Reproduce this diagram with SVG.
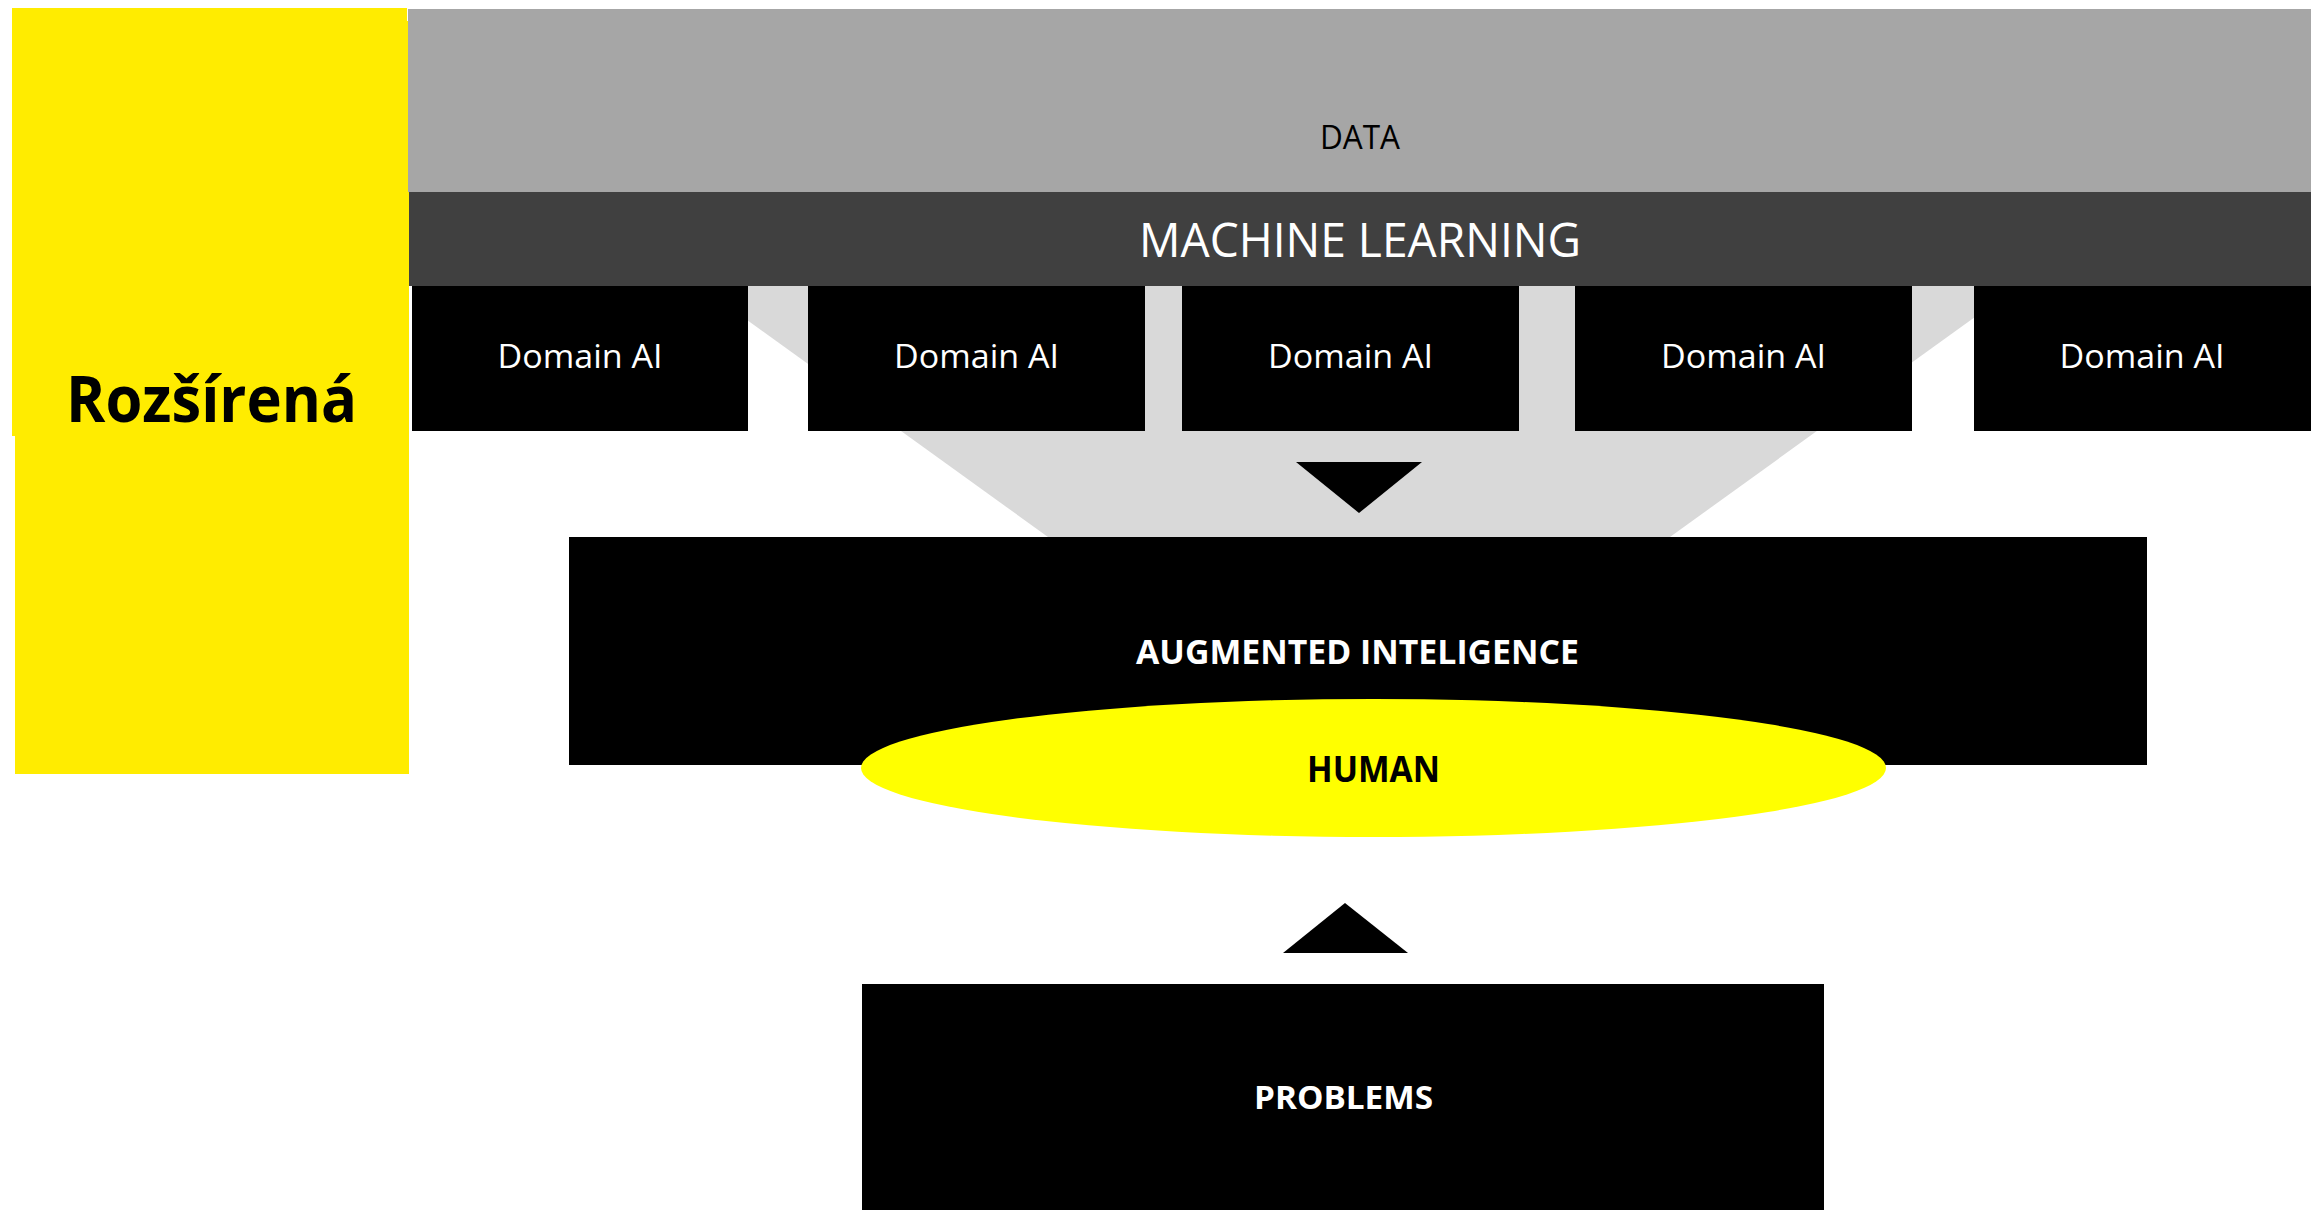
<svg xmlns="http://www.w3.org/2000/svg" width="2311" height="1212" viewBox="0 0 2311 1212">
  <style>
    .lbl { font-family: "Open Sans", "Liberation Sans", sans-serif; text-anchor: middle; }
    .dom { fill: #000000; }
    .domtxt { fill: #ffffff; font-size: 33.6px; }
    .bold { font-weight: bold; }
    .arrow { fill: #000000; }
  </style>
  <rect x="0" y="0" width="2311" height="1212" fill="#ffffff"/>

  <!-- side label band -->
  <g id="rozsirena">
    <polygon points="12,8 407,8 407,21 409,21 409,774 15,774 15,436 12,436" fill="#FFEC00"/>
    <text class="lbl bold" x="211.5" y="422" font-size="64" fill="#000000" textLength="291" lengthAdjust="spacingAndGlyphs">Rozšírená</text>
  </g>

  <!-- data layer -->
  <g id="data">
    <rect x="408" y="9" width="1903" height="183" fill="#A6A6A6"/>
    <text class="lbl" x="1360" y="149" font-size="33.6" fill="#000000" textLength="80" lengthAdjust="spacingAndGlyphs">DATA</text>
  </g>

  <!-- machine learning layer -->
  <g id="machine-learning">
    <rect x="409" y="192" width="1902" height="94" fill="#404040"/>
    <text class="lbl" x="1360" y="257" font-size="47.6" fill="#ffffff" textLength="442" lengthAdjust="spacingAndGlyphs">MACHINE LEARNING</text>
  </g>

  <!-- funnel from domain models into augmented intelligence -->
  <g id="funnel">
    <polygon points="700,286 2018,286 1670,537 1048,537" fill="#D9D9D9"/>
  </g>

  <!-- domain models -->
  <g id="domain-ai-1">
    <rect class="dom" x="412" y="286" width="336" height="145"/>
    <text class="lbl domtxt" x="580" y="368" textLength="165" lengthAdjust="spacingAndGlyphs">Domain AI</text>
  </g>
  <g id="domain-ai-2">
    <rect class="dom" x="808" y="286" width="337" height="145"/>
    <text class="lbl domtxt" x="976.5" y="368" textLength="165" lengthAdjust="spacingAndGlyphs">Domain AI</text>
  </g>
  <g id="domain-ai-3">
    <rect class="dom" x="1182" y="286" width="337" height="145"/>
    <text class="lbl domtxt" x="1350.5" y="368" textLength="165" lengthAdjust="spacingAndGlyphs">Domain AI</text>
  </g>
  <g id="domain-ai-4">
    <rect class="dom" x="1575" y="286" width="337" height="145"/>
    <text class="lbl domtxt" x="1743.5" y="368" textLength="165" lengthAdjust="spacingAndGlyphs">Domain AI</text>
  </g>
  <g id="domain-ai-5">
    <rect class="dom" x="1974" y="286" width="337" height="145"/>
    <text class="lbl domtxt" x="2142" y="368" textLength="165" lengthAdjust="spacingAndGlyphs">Domain AI</text>
  </g>

  <!-- augmented intelligence -->
  <g id="augmented-intelligence">
    <rect x="569" y="537" width="1578" height="228" fill="#000000"/>
    <text class="lbl bold" x="1357.5" y="664" font-size="33.6" fill="#ffffff" textLength="443" lengthAdjust="spacingAndGlyphs">AUGMENTED INTELIGENCE</text>
  </g>

  <!-- human -->
  <g id="human">
    <ellipse cx="1373.5" cy="768" rx="512.5" ry="69" fill="#FFFF00"/>
    <text class="lbl bold" x="1373.5" y="782" font-size="35" fill="#000000" textLength="133" lengthAdjust="spacingAndGlyphs">HUMAN</text>
  </g>

  <!-- problems -->
  <g id="problems">
    <rect x="862" y="984" width="962" height="226" fill="#000000"/>
    <text class="lbl bold" x="1343.5" y="1109" font-size="32" fill="#ffffff" textLength="179" lengthAdjust="spacingAndGlyphs">PROBLEMS</text>
  </g>

  <!-- flow arrows -->
  <g id="connectors">
    <polygon class="arrow" points="1296,462 1422,462 1359,513"/>
    <polygon class="arrow" points="1345,903 1408,953 1283,953"/>
  </g>
</svg>
